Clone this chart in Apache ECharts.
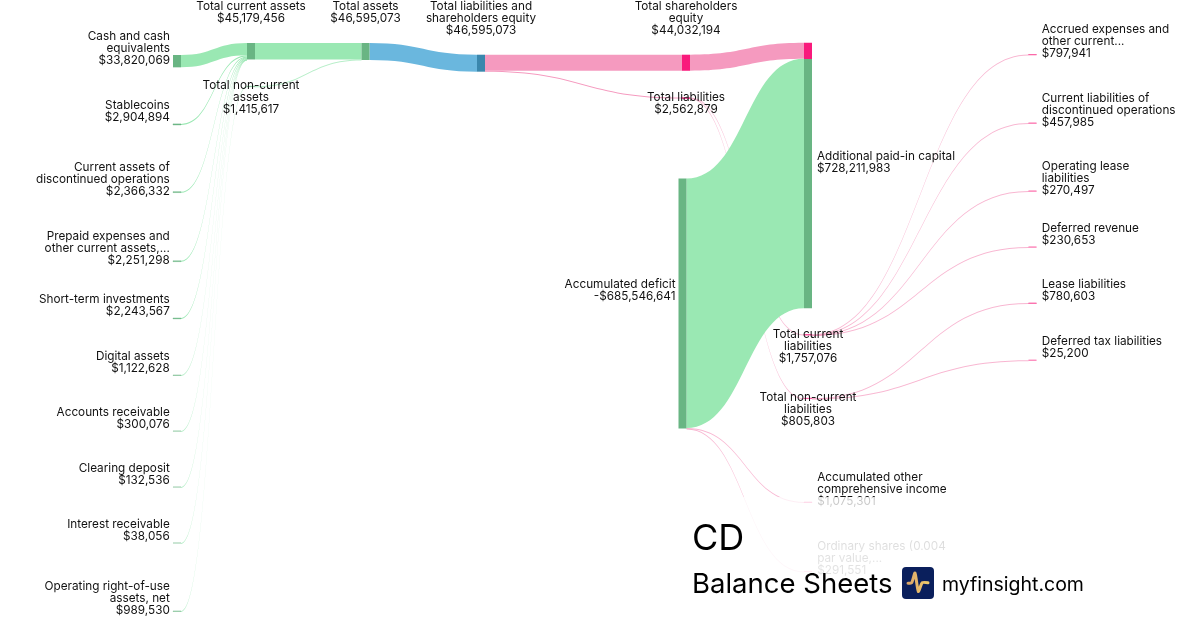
<!DOCTYPE html>
<html>
<head>
<meta charset="utf-8">
<style>html,body{margin:0;padding:0;background:#fff}#c{width:1200px;height:630px}</style>
<script src="https://cdn.jsdelivr.net/npm/echarts@6/dist/echarts.min.js"></script>
</head>
<body>
<div id="c"></div>
<script>
// ---- data ----
const nodeNames = [
  'Cash and cash equivalents','Stablecoins','Current assets of discontinued operations',
  'Prepaid expenses and other current assets,...','Short-term investments','Digital assets',
  'Accounts receivable','Clearing deposit','Interest receivable','Operating right-of-use assets, net',
  'Accumulated deficit',
  'Total current assets','Total non-current assets','Total assets','Total liabilities and shareholders equity',
  'Total shareholders equity','Total liabilities','Additional paid-in capital','Total current liabilities',
  'Total non-current liabilities','Accumulated other comprehensive income','Ordinary shares (0.004 par value,...',
  'Accrued expenses and other current...','Current liabilities of discontinued operations',
  'Operating lease liabilities','Deferred revenue','Lease liabilities','Deferred tax liabilities'
];
const nodeValues = [
  33820069,2904894,2366332,2251298,2243567,1122628,300076,132536,38056,989530,
  -685546641,
  45179456,1415617,46595073,46595073,44032194,2562879,728211983,1757076,805803,1075301,291551,
  797941,457985,270497,230653,780603,25200
];
const linkSources = [0,1,2,3,4,5,6,7,8,9,11,12,13,14,14,15,16,16,10,10,10,18,18,18,18,19,19];
const linkTargets = [11,11,11,11,11,11,11,11,11,12,13,13,14,15,16,17,18,19,20,21,17,22,23,24,25,26,27];
const linkValues = [
  33820069,2904894,2366332,2251298,2243567,1122628,300076,132536,38056,989530,
  45179456,1415617,46595073,44032194,2562879,44032194,1757076,805803,1075301,291551,684179789,
  797941,457985,270497,230653,780603,25200
];
const labelLines = {
  'Cash and cash equivalents':'Cash and cash\nequivalents',
  'Current assets of discontinued operations':'Current assets of\ndiscontinued operations',
  'Prepaid expenses and other current assets,...':'Prepaid expenses and\nother current assets,...',
  'Operating right-of-use assets, net':'Operating right-of-use\nassets, net',
  'Total non-current assets':'Total non-current\nassets',
  'Total liabilities and shareholders equity':'Total liabilities and\nshareholders equity',
  'Total shareholders equity':'Total shareholders\nequity',
  'Total current liabilities':'Total current\nliabilities',
  'Total non-current liabilities':'Total non-current\nliabilities',
  'Accumulated other comprehensive income':'Accumulated other\ncomprehensive income',
  'Ordinary shares (0.004 par value,...':'Ordinary shares (0.004\npar value,...',
  'Accrued expenses and other current...':'Accrued expenses and\nother current...',
  'Current liabilities of discontinued operations':'Current liabilities of\ndiscontinued operations',
  'Operating lease liabilities':'Operating lease\nliabilities'
};

// ---- layout and style (separate from the values) ----
const W = 1200, H = 267;               // H sets the library's value-to-height scale
const nodeX = [173,173,173,173,173,173,173,173,173,173,678.5,247,247,361.5,477,682,682,804,804,804,804,804,1028.5,1028.5,1028.5,1028.5,1028.5,1028.5];
const nodeY = [55,123.9,191.7,260.8,318,375,431,487,543,611,178.6,43,86.2,43,54.7,54.7,97.6,42.8,334.5,398.2,502,571.4,54.6,123,191,247,303,360.2];
const labelSide = ['left','left','left','left','left','left','left','left','left','left','left',
  'top','under','top','top','top','under','right','under','under','right','right',
  'right','right','right','right','right','right'];
const GREEN_NODE = '#69b583', GREEN_LINK = '#9ae8b3', PINK_NODE = '#f91a7c', PINK_LINK = '#f59abf',
      BLUE_NODE = '#3a87ad', BLUE_LINK = '#6ab7de';
const nodeColors = nodeNames.map((n, i) => i <= 13 ? GREEN_NODE : i === 14 ? BLUE_NODE : PINK_NODE);
const edgeColors = nodeColors.slice();
// the top of the paid-in capital bar takes the colour of the equity flow coming in
const split = nodeValues[15] / nodeValues[17];
nodeColors[17] = {type:'linear',x:0,y:0,x2:0,y2:1,colorStops:[
  {offset:0,color:PINK_NODE},{offset:split,color:PINK_NODE},{offset:split,color:GREEN_NODE},{offset:1,color:GREEN_NODE}
]};
function linkColor(i){
  const s = linkSources[i], t = linkTargets[i];
  if (s === 13) return BLUE_LINK;
  if (s <= 9 || (s >= 11 && s <= 12) || (s === 10 && t === 17)) return GREEN_LINK;
  return PINK_LINK;
}
function linkOpacity(i){ return linkValues[i] < 2000000 ? 0.72 : 1; }
function nodeStyle(i){
  // nodes thinner than a pixel keep a hairline so they stay visible
  const thin = Math.abs(nodeValues[i]) < 3000000;
  return {color:nodeColors[i],borderColor:edgeColors[i],borderWidth:thin ? 0.4 : 0};
}
function labelFor(i){
  const side = labelSide[i];
  const base = {show:true,color:'#111',fontFamily:'Inter',fontSize:11.75,lineHeight:12};
  if (side === 'left') return Object.assign(base,{position:'left',distance:3,offset:[0,-13]});
  if (side === 'right') return Object.assign(base,{position:'right',distance:5,offset:[0,-13]});
  if (side === 'top') return Object.assign(base,{position:'top',distance:18.5});
  return Object.assign(base,{position:'bottom',distance:-7});
}
function money(v){ return (v < 0 ? '-$' : '$') + Math.abs(v).toLocaleString('en-US'); }

const chart = echarts.init(document.getElementById('c'), null, {renderer:'canvas'});
chart.setOption({
  animation:false,
  backgroundColor:'#fff',
  series:[{
    type:'sankey',
    left:0, top:0, width:W, height:H,
    nodeWidth:8, nodeGap:0, layoutIterations:0, draggable:false,
    emphasis:{disabled:true},
    data:nodeNames.map((name,i)=>({
      name,
      value:Math.abs(nodeValues[i]),
      localX:nodeX[i]/W,
      localY:nodeY[i]/H,
      itemStyle:nodeStyle(i),
      label:Object.assign(labelFor(i),{
        formatter:()=> (labelLines[name]||name)+'\n'+money(nodeValues[i])
      })
    })),
    links:linkValues.map((value,i)=>({
      source:nodeNames[linkSources[i]],
      target:nodeNames[linkTargets[i]],
      value,
      lineStyle:{color:linkColor(i),opacity:linkOpacity(i),curveness:0.5}
    }))
  }],
  graphic:[
    {type:'rect',z:100,shape:{x:680,y:497,width:420,height:133},style:{fill:{type:'linear',x:0,y:0,x2:0,y2:1,colorStops:[
      {offset:0,color:'rgba(255,255,255,0.76)'},{offset:0.4,color:'rgba(255,255,255,0.87)'},{offset:1,color:'rgba(255,255,255,0.9)'}]}}},
    {type:'text',z:101,x:692,y:539,style:{text:'CD',font:'36px Inter',fill:'#000',textVerticalAlign:'middle'}},
    {type:'text',z:101,x:692,y:585,style:{text:'Balance Sheets',font:'27.5px Inter',fill:'#000',textVerticalAlign:'middle'}},
    {type:'rect',z:101,shape:{x:902,y:567,width:32,height:32,r:4},style:{fill:'#0a1f5c'}},
    {type:'polyline',z:102,shape:{points:[[908,583.3],[911.7,582.7],[915,573],[918.3,591.5],[922.3,582.7],[928,582.7]],smooth:0.2},
      style:{fill:'none',lineWidth:3,lineCap:'round',lineJoin:'round',
        stroke:{type:'linear',x:0,y:0,x2:1,y2:0,colorStops:[{offset:0,color:'#d9a36a'},{offset:1,color:'#f2cf6b'}]}}},
    {type:'text',z:101,x:942,y:585,style:{text:'myfinsight.com',font:'19.5px Inter',fill:'#000',textVerticalAlign:'middle'}}
  ]
});
</script>
</body>
</html>
